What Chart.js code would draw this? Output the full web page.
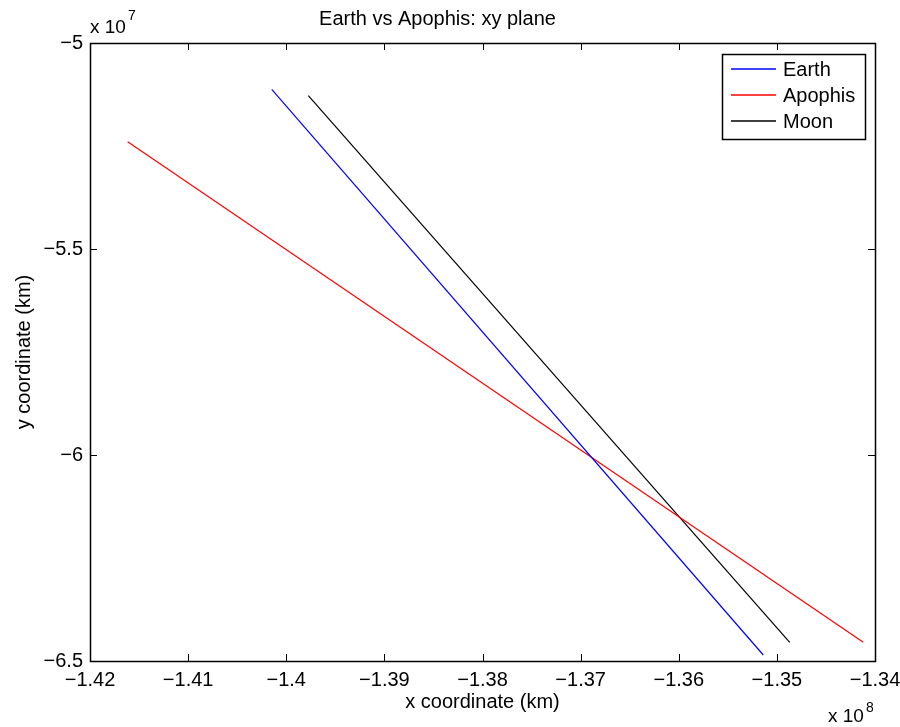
<!DOCTYPE html>
<html>
<head>
<meta charset="utf-8">
<script src="https://cdn.jsdelivr.net/npm/chart.js@4.4.1/dist/chart.umd.min.js"></script>
<style>
    html, body { margin: 0; padding: 0; background: #ffffff; }
    #wrap { width: 900px; height: 727px; }
</style>
</head>
<body>
<div id="wrap"><canvas id="orbitChart" width="900" height="727"></canvas></div>
<script>
// endpoints (km)
const earthX = [-1.40148e8, -1.35138e8];
const earthY = [-5.1124e7, -6.4854e7];
const apophisX = [-1.41616e8, -1.34119e8];
const apophisY = [-5.2395e7, -6.4546e7];
const moonX = [-1.39775e8, -1.34869e8];
const moonY = [-5.1279e7, -6.4546e7];

const seriesNames = ["Earth", "Apophis", "Moon"];
const seriesColors = ["#0000ff", "#ff0000", "#000000"];

const xRange = [-1.42e8, -1.34e8];
const yRange = [-6.5e7, -5e7];
const xStep = 1e6;
const yStep = 5e6;

const FONT = "'Liberation Sans', Arial, Helvetica, sans-serif";

function toPoints(xs, ys) {
    return xs.map((x, i) => ({ x: x, y: ys[i] }));
}

function fmt(v) {
    // matlab style minus sign, trailing zeros dropped
    let s = String(Math.round(v * 100) / 100);
    return s.replace("-", "\u2212");
}

// box, inward ticks, exponent labels and legend, all matlab style
const matlabBox = {
    id: "matlabBox",
    afterDraw(chart) {
        const ctx = chart.ctx;
        const a = chart.chartArea;
        const xs = chart.scales.x, ys = chart.scales.y;
        const tl = 7;
        ctx.save();
        ctx.strokeStyle = "#000";
        ctx.lineWidth = 1;

        ctx.beginPath();
        xs.ticks.forEach(t => {
            const px = Math.round(xs.getPixelForValue(t.value)) + 0.5;
            ctx.moveTo(px, a.bottom); ctx.lineTo(px, a.bottom - tl);
            ctx.moveTo(px, a.top); ctx.lineTo(px, a.top + tl);
        });
        ys.ticks.forEach(t => {
            const py = Math.round(ys.getPixelForValue(t.value)) + 0.5;
            ctx.moveTo(a.left, py); ctx.lineTo(a.left + tl, py);
            ctx.moveTo(a.right, py); ctx.lineTo(a.right - tl, py);
        });
        ctx.stroke();

        ctx.lineWidth = 1.5;
        ctx.strokeRect(Math.round(a.left) + 0.5, Math.round(a.top) + 0.5,
            Math.round(a.right - a.left), Math.round(a.bottom - a.top));

        // exponents
        ctx.fillStyle = "#000";
        ctx.textBaseline = "alphabetic";
        ctx.textAlign = "left";
        ctx.font = "19px " + FONT;
        ctx.fillText("x 10", a.left, a.top - 10);
        let w = ctx.measureText("x 10").width;
        ctx.font = "14px " + FONT;
        ctx.fillText("7", a.left + w + 2, a.top - 23);

        ctx.font = "19px " + FONT;
        ctx.fillText("x 10", 828, 722);
        w = ctx.measureText("x 10").width;
        ctx.font = "14px " + FONT;
        ctx.fillText("8", 828 + w + 2, 712);

        // legend
        const lx = 722, ly = 54, lw = 143, lh = 85;
        ctx.fillStyle = "#fff";
        ctx.fillRect(lx, ly, lw, lh);
        ctx.lineWidth = 1.5;
        ctx.strokeStyle = "#000";
        ctx.strokeRect(lx + 0.5, ly + 0.5, lw, lh);
        ctx.font = "20px " + FONT;
        ctx.textBaseline = "middle";
        seriesNames.forEach((name, i) => {
            const y = Math.round(ly + 15 + i * 26.2);
            ctx.beginPath();
            ctx.strokeStyle = seriesColors[i];
            ctx.lineWidth = 1.6;
            ctx.moveTo(lx + 9, y);
            ctx.lineTo(lx + 54, y);
            ctx.stroke();
            ctx.fillStyle = "#000";
            ctx.fillText(name, lx + 61, y + 1);
        });
        ctx.restore();
    }
};

const ctx = document.getElementById("orbitChart").getContext("2d");
const allX = [earthX, apophisX, moonX];
const allY = [earthY, apophisY, moonY];

new Chart(ctx, {
    type: "scatter",
    data: {
        datasets: seriesNames.map((name, i) => ({
            label: name,
            data: toPoints(allX[i], allY[i]),
            showLine: true,
            borderColor: seriesColors[i],
            backgroundColor: seriesColors[i],
            borderWidth: 1.2,
            pointRadius: 0,
            tension: 0
        }))
    },
    options: {
        responsive: false,
        animation: false,
        layout: { padding: { top: 0, right: 25, bottom: 0, left: 0 } },
        plugins: {
            legend: { display: false },
            tooltip: { enabled: false },
            title: {
                display: true,
                text: "Earth vs Apophis: xy plane",
                color: "#000",
                font: { family: FONT, size: 20, weight: "normal", lineHeight: 1.2 },
                padding: { top: 7, bottom: 12 }
            }
        },
        scales: {
            x: {
                type: "linear",
                min: xRange[0],
                max: xRange[1],
                grid: { display: false, drawTicks: false },
                border: { display: false },
                ticks: {
                    stepSize: xStep,
                    color: "#000",
                    padding: 7,
                    maxRotation: 0,
                    autoSkip: false,
                    font: { family: FONT, size: 20 },
                    callback: v => fmt(v / 1e8)
                },
                title: {
                    display: true,
                    text: "x coordinate (km)",
                    color: "#000",
                    font: { family: FONT, size: 20 },
                    padding: { top: 0, bottom: 13 }
                },
                afterFit: scale => {
                    scale.height = 66;
                    scale.paddingLeft = 0;
                    scale.paddingRight = 0;
                }
            },
            y: {
                type: "linear",
                min: yRange[0],
                max: yRange[1],
                grid: { display: false, drawTicks: false },
                border: { display: false },
                ticks: {
                    stepSize: yStep,
                    color: "#000",
                    padding: 7,
                    autoSkip: false,
                    font: { family: FONT, size: 20 },
                    callback: v => fmt(v / 1e7)
                },
                title: {
                    display: true,
                    text: "y coordinate (km)",
                    color: "#000",
                    font: { family: FONT, size: 20 },
                    padding: { top: 12, bottom: 0 }
                },
                afterFit: scale => {
                    scale.width = 90;
                    scale.paddingTop = 0;
                    scale.paddingBottom = 0;
                }
            }
        }
    },
    plugins: [matlabBox]
});
</script>
</body>
</html>
